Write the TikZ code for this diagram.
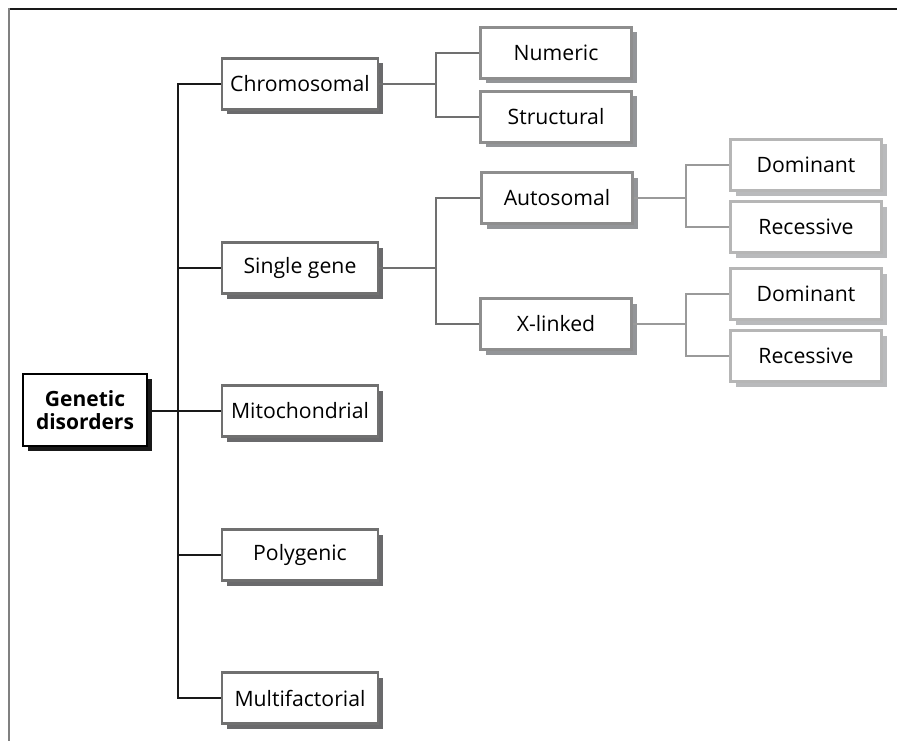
\documentclass[tikz,border=0pt]{standalone}
\usepackage{fontspec}
\setmainfont{Open Sans}
\usetikzlibrary{shadows}
\definecolor{lineA}{HTML}{707070}
\definecolor{shadeA}{HTML}{6A6A6C}
\definecolor{lineB}{HTML}{8E8E8E}
\definecolor{shadeB}{HTML}{939598}
\definecolor{lineC}{HTML}{B6B6B6}
\definecolor{shadeC}{HTML}{B9BABC}
\definecolor{linkC}{HTML}{9A9A9A}
\tikzset{
  rootbox/.style={draw=black,line width=2.8pt,fill=white,minimum width=124,minimum height=72,align=center,font=\fontsize{21}{23}\selectfont\bfseries,
    drop shadow={shadow xshift=5pt,shadow yshift=-5pt,fill=black!90,opacity=1}},
  boxA/.style={draw=lineA,line width=2.2pt,fill=white,minimum width=156,minimum height=51,font=\fontsize{21.2}{24}\selectfont,
    drop shadow={shadow xshift=5pt,shadow yshift=-5pt,fill=shadeA,opacity=1}},
  boxB/.style={draw=lineB,line width=2.2pt,fill=white,minimum width=151,minimum height=51,font=\fontsize{21.2}{24}\selectfont,
    drop shadow={shadow xshift=5pt,shadow yshift=-5pt,fill=shadeB,opacity=1}},
  boxC/.style={draw=lineC,line width=2.2pt,fill=white,minimum width=151,minimum height=51,font=\fontsize{21.2}{24}\selectfont,
    drop shadow={shadow xshift=5pt,shadow yshift=-5pt,fill=shadeC,opacity=1}},
  linkR/.style={draw=black!90,line width=2.2pt},
  linkA/.style={draw=lineA,line width=2pt},
  linkB/.style={draw=linkC,line width=2pt}
}
\begin{document}
\begin{tikzpicture}[x=1pt,y=-1pt]
  \useasboundingbox (0,0) rectangle (897,741);
  \draw[black!90,line width=1.6pt] (9,9) -- (897,9);
  \draw[black!50,line width=2.2pt] (9,8.2) -- (9,741);

  \node[rootbox] (genetic) at (85,410) {Genetic\\disorders};

  \node[boxA] (chrom) at (300,84) {Chromosomal};
  \node[boxA] (single) at (300,268) {Single gene};
  \node[boxA] (mito) at (300,411) {Mitochondrial};
  \node[boxA] (poly) at (300,555) {Polygenic};
  \node[boxA] (multi) at (300,698) {Multifactorial};

  \node[boxB] (numeric) at (556,53) {Numeric};
  \node[boxB] (struct) at (556,117) {Structural};
  \node[boxB] (auto) at (557,198) {Autosomal};
  \node[boxB] (xlinked) at (556,324) {X-linked};

  \node[boxC] (autodom) at (806,165) {Dominant};
  \node[boxC] (autorec) at (806,227) {Recessive};
  \node[boxC] (xdom) at (806,294) {Dominant};
  \node[boxC] (xrec) at (806,356) {Recessive};

  \coordinate (trunk) at (178,0);
  \coordinate (forkA) at (436,0);
  \coordinate (forkB) at (686,0);

  \draw[linkR] (chrom.west) -| (trunk |- multi) -- (multi.west);
  \draw[linkR] (trunk |- single) -- (single.west);
  \draw[linkR] (trunk |- poly) -- (poly.west);
  \draw[linkR] (genetic.east |- mito) -- (mito.west);

  \draw[linkA] (chrom.east) -- (forkA |- chrom);
  \draw[linkA] (numeric.west) -| (forkA |- struct) -- (struct.west);
  \draw[linkA] (single.east) -- (forkA |- single);
  \draw[linkA] (auto.west) -| (forkA |- xlinked) -- (xlinked.west);

  \draw[linkB] (auto.east) -- (forkB |- auto);
  \draw[linkB] (autodom.west) -| (forkB |- autorec) -- (autorec.west);
  \draw[linkB] (xlinked.east) -- (forkB |- xlinked);
  \draw[linkB] (xdom.west) -| (forkB |- xrec) -- (xrec.west);
\end{tikzpicture}
\end{document}
